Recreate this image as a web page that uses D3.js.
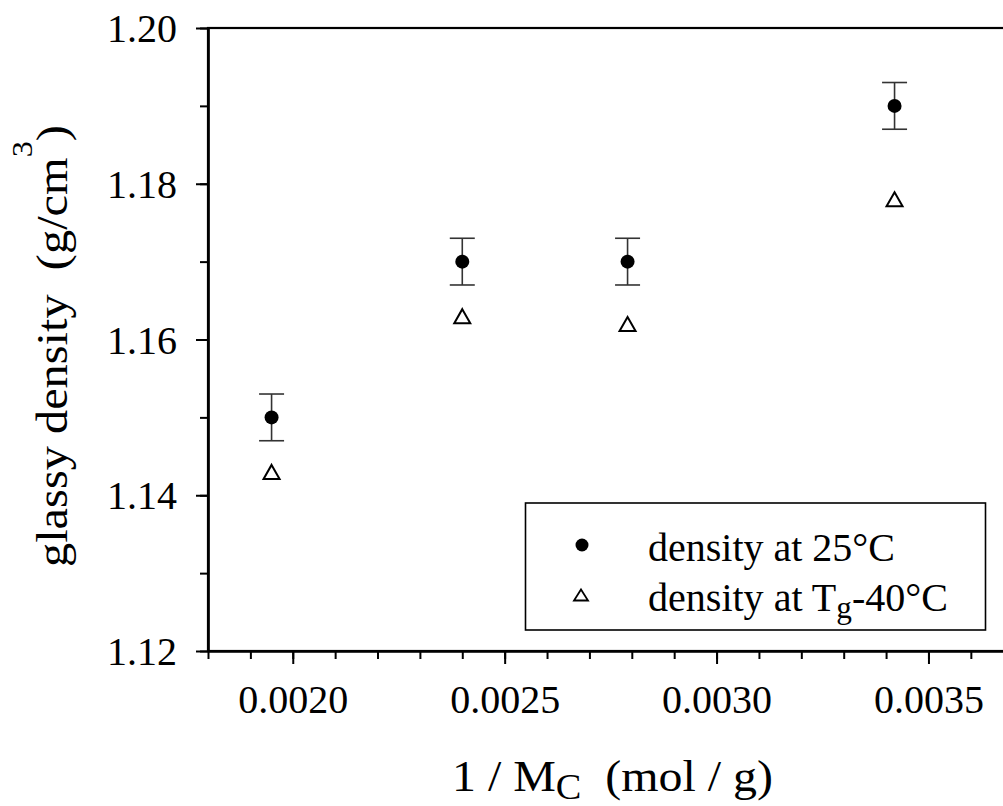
<!DOCTYPE html>
<html><head><meta charset="utf-8">
<script src="https://cdn.jsdelivr.net/npm/d3@7"></script>
<style>
html,body{margin:0;padding:0;background:#fff;overflow:hidden;}
text{font-family:"Liberation Serif","Times New Roman",serif;fill:#000;white-space:pre;}
</style></head>
<body><svg id="c" width="1003" height="806"></svg>
<script>
// ---- data ----
const invMc = [0.00195, 0.00240, 0.00279, 0.00342];
const density25 = [1.150, 1.170, 1.170, 1.190];
const density25Err = [0.003, 0.003, 0.003, 0.003];
const densityTg = [1.143, 1.163, 1.162, 1.178];
const xMajorTicks = [0.0020, 0.0025, 0.0030, 0.0035];
const xTickLabels = ["0.0020", "0.0025", "0.0030", "0.0035"];
const yMajorTicks = [1.12, 1.14, 1.16, 1.18, 1.20];
const yTickLabels = ["1.12", "1.14", "1.16", "1.18", "1.20"];
const xDomain = [0.0018, 0.0038];
const yDomain = [1.12, 1.20];
const legendLabels = ["density at 25°C", "density at T", "g", "-40°C"];

const svg = d3.select("#c");
const L = 208, T = 28, B = 651;
const pxPerX = 423800;
const x = d3.scaleLinear().domain(xDomain).range([L, L + (xDomain[1]-xDomain[0])*pxPerX]);
const y = d3.scaleLinear().domain(yDomain).range([B, T]);

// frame
svg.append("rect").attr("x", L).attr("y", T)
  .attr("width", x(xDomain[1]) - L).attr("height", B - T)
  .attr("fill", "none").attr("stroke", "#000").attr("stroke-width", 2.2);

function styleAxis(g){
  g.select(".domain").attr("stroke-width", 2.2);
  g.selectAll(".tick line").attr("stroke-width", 2);
  g.selectAll("text").style("font-family", '"Liberation Serif","Times New Roman",serif').attr("font-size", 40).attr("fill", "#000");
}

// minor ticks
const xMinor = d3.range(18, 39).map(d => d/10000);
const yMinor = d3.range(112, 121).map(d => d/100);
svg.append("g").attr("transform", `translate(0,${B})`)
  .call(d3.axisBottom(x).tickValues(xMinor).tickSize(8).tickSizeOuter(0).tickFormat(""))
  .call(styleAxis);
svg.append("g").attr("transform", `translate(${L},0)`)
  .call(d3.axisLeft(y).tickValues(yMinor).tickSize(8).tickSizeOuter(0).tickFormat(""))
  .call(styleAxis);
// major ticks
svg.append("g").attr("transform", `translate(0,${B})`)
  .call(d3.axisBottom(x).tickValues(xMajorTicks).tickSize(13).tickPadding(21).tickSizeOuter(0)
    .tickFormat((d,i) => xTickLabels[i]))
  .call(styleAxis);
const ya = svg.append("g").attr("transform", `translate(${L},0)`)
  .call(d3.axisLeft(y).tickValues(yMajorTicks).tickSize(12).tickPadding(19).tickSizeOuter(0)
    .tickFormat((d,i) => yTickLabels[i]))
  .call(styleAxis);
ya.selectAll("text").attr("dy", "0.34em");

// error bars
const eb = svg.append("g").attr("stroke", "#333").attr("stroke-width", 1.6);
invMc.forEach((v,i) => {
  const cx = x(v), y1 = y(density25[i]+density25Err[i]), y2 = y(density25[i]-density25Err[i]);
  eb.append("line").attr("x1", cx).attr("x2", cx).attr("y1", y1).attr("y2", y2);
  eb.append("line").attr("x1", cx-12.5).attr("x2", cx+12.5).attr("y1", y1).attr("y2", y1);
  eb.append("line").attr("x1", cx-12.5).attr("x2", cx+12.5).attr("y1", y2).attr("y2", y2);
});
// filled circles
svg.append("g").selectAll("circle").data(invMc).join("circle")
  .attr("cx", d => x(d)).attr("cy", (d,i) => y(density25[i])).attr("r", 7).attr("fill", "#000");
// open triangles
const tri = "M0,-7 L8,7 L-8,7 Z";
svg.append("g").selectAll("path").data(invMc).join("path")
  .attr("d", tri).attr("transform", (d,i) => `translate(${x(d)},${y(densityTg[i])})`)
  .attr("fill", "none").attr("stroke", "#000").attr("stroke-width", 2);

// legend
svg.append("rect").attr("x", 525.5).attr("y", 503).attr("width", 460).attr("height", 127)
  .attr("fill", "#fff").attr("stroke", "#000").attr("stroke-width", 1.6);
svg.append("circle").attr("cx", 582).attr("cy", 545).attr("r", 6.5).attr("fill", "#000");
svg.append("path").attr("d", "M0,-5.5 L7,5.5 L-7,5.5 Z").attr("transform", "translate(581,595)")
  .attr("fill", "none").attr("stroke", "#000").attr("stroke-width", 1.8);

function fitText(sel, targetW, tx, ty, rot){
  const w = sel.node().getBBox().width;
  const s = targetW / w;
  sel.attr("transform", `translate(${tx},${ty})${rot ? " rotate(" + rot + ")" : ""} scale(${s},1)`);
}
const l1 = svg.append("text").attr("font-size", 41).text(legendLabels[0]);
fitText(l1, 247, 648, 561);
const l2 = svg.append("text").attr("font-size", 41);
l2.append("tspan").text(legendLabels[1]);
l2.append("tspan").attr("font-size", 32).attr("dy", 7).text(legendLabels[2]);
l2.append("tspan").attr("dy", -7).text(legendLabels[3]);
fitText(l2, 300, 648, 611);

// x title
const xt = svg.append("text").attr("font-size", 45);
xt.append("tspan").text("1 / M");
xt.append("tspan").attr("font-size", 36).attr("dy", 8).text("C");
xt.append("tspan").attr("dy", -8).text("  (mol / g)");
fitText(xt, 321, 452, 791);

// y title
const yt = svg.append("text").attr("font-size", 45);
yt.append("tspan").text("glassy density  (g/cm");
yt.append("tspan").attr("font-size", 30).attr("dy", -35).text("3");
yt.append("tspan").attr("dy", 35).text(")");
fitText(yt, 442, 67, 567, -90);
</script></body></html>
